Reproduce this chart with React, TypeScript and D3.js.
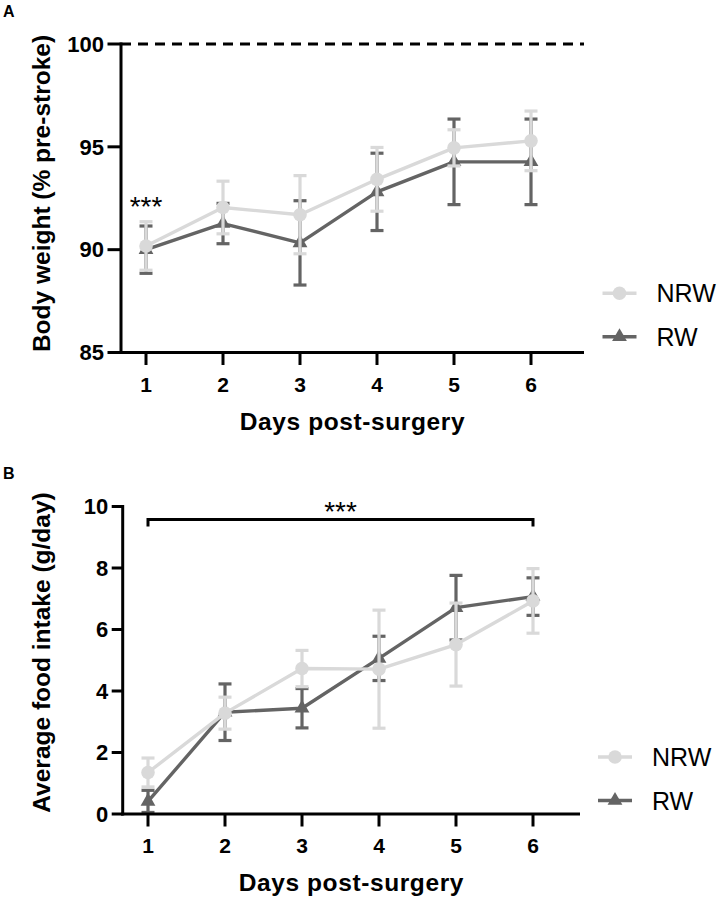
import React from "react";
import * as d3 from "d3";

// ---------- DATA ----------
const days = [1, 2, 3, 4, 5, 6];

const weightTicks = [85, 90, 95, 100];
const weightNRW = [90.18, 92.05, 91.7, 93.42, 94.95, 95.29];
const weightNRWErr = [1.18, 1.28, 1.9, 1.55, 0.88, 1.45];
const weightRW = [90.0, 91.27, 90.33, 92.81, 94.27, 94.27];
const weightRWErr = [1.15, 0.98, 2.05, 1.88, 2.08, 2.08];

const foodTicks = [0, 2, 4, 6, 8, 10];
const foodNRW = [1.35, 3.28, 4.73, 4.71, 5.51, 6.93];
const foodNRWErr = [0.47, 0.52, 0.59, 1.92, 1.35, 1.05];
const foodRW = [0.41, 3.31, 3.44, 5.06, 6.71, 7.07];
const foodRWErr = [0.36, 0.92, 0.64, 0.72, 1.05, 0.61];

const seriesNames = ["NRW", "RW"];

// ---------- STYLE ----------
const LIGHT = "#d9d9d9";
const DARK = "#646464";
const FONT = "'Liberation Sans', Arial, Helvetica, sans-serif";

type Series = { name: string; values: number[]; errs: number[]; color: string; shape: "circle" | "triangle" };

type PanelProps = {
  letter: string;
  letterY: number;
  xLeft: number;
  xRight: number;
  x1px: number;
  x6px: number;
  yTopPx: number;
  yBotPx: number;
  yDomain: [number, number];
  yTicks: number[];
  yTickLen: number;
  yTitle: string;
  yTitleCenter: number;
  series: Series[];
  legendX: number;
  legendY: number;
  dashedTop?: boolean;
  starsAt1?: boolean;
  bracket?: boolean;
};

function Marker({ shape, x, y, color }: { shape: string; x: number; y: number; color: string }) {
  if (shape === "circle") return <circle cx={x} cy={y} r={6.8} fill={color} />;
  const path = d3.symbol().type(d3.symbolTriangle).size(95)() as string;
  return <path d={path} transform={`translate(${x},${y})`} fill={color} />;
}

function Panel(p: PanelProps) {
  const x = d3.scaleLinear().domain([days[0], days[days.length - 1]]).range([p.x1px, p.x6px]);
  const y = d3.scaleLinear().domain(p.yDomain).range([p.yBotPx, p.yTopPx]);
  const axisY = p.yBotPx;
  const line = d3
    .line<number>()
    .x((_, i) => x(days[i]))
    .y((d) => y(d));
  const cap = 6.5;

  return (
    <g>
      <text x={3} y={p.letterY} fontFamily={FONT} fontWeight="bold" fontSize={16}>
        {p.letter}
      </text>

      {/* dashed reference */}
      {p.dashedTop && (
        <line x1={p.xLeft} x2={p.xRight} y1={y(p.yDomain[1])} y2={y(p.yDomain[1])} stroke="#000" strokeWidth={3} strokeDasharray="10,7" />
      )}

      {/* series */}
      {p.series
        .slice()
        .reverse()
        .map((s) => (
          <g key={s.name}>
            {s.values.map((v, i) => {
              const cx = x(days[i]);
              const lo = Math.min(y(v - s.errs[i]), y(p.yDomain[0]) - 1.5);
              const hi = y(v + s.errs[i]);
              return (
                <g key={i} stroke={s.color} strokeWidth={3.2}>
                  <line x1={cx} x2={cx} y1={hi} y2={lo} />
                  <line x1={cx - cap} x2={cx + cap} y1={hi} y2={hi} />
                  <line x1={cx - cap} x2={cx + cap} y1={lo} y2={lo} />
                </g>
              );
            })}
            <path d={line(s.values) as string} fill="none" stroke={s.color} strokeWidth={3.4} strokeLinejoin="round" />
            {s.values.map((v, i) => (
              <Marker key={i} shape={s.shape} x={x(days[i])} y={y(v)} color={s.color} />
            ))}
          </g>
        ))}

      {/* axes */}
      <line x1={p.xLeft} x2={p.xLeft} y1={p.yTopPx - 1.5} y2={axisY + 1.5} stroke="#000" strokeWidth={3} />
      <line x1={p.xLeft - 1.5} x2={p.xRight} y1={axisY} y2={axisY} stroke="#000" strokeWidth={3} />
      {p.yTicks.map((t) => (
        <g key={t}>
          <line x1={p.xLeft - p.yTickLen} x2={p.xLeft} y1={y(t)} y2={y(t)} stroke="#000" strokeWidth={3} />
          <text
            x={p.xLeft - p.yTickLen - 3.5}
            y={y(t) + 7.8}
            textAnchor="end"
            fontFamily={FONT}
            fontWeight="bold"
            fontSize={22}
          >
            {t}
          </text>
        </g>
      ))}
      {days.map((d) => (
        <g key={d}>
          <line x1={x(d)} x2={x(d)} y1={axisY} y2={axisY + 12.5} stroke="#000" strokeWidth={3} />
          <text x={x(d)} y={axisY + 39} textAnchor="middle" fontFamily={FONT} fontWeight="bold" fontSize={21}>
            {d}
          </text>
        </g>
      ))}
      <text
        x={(p.xLeft + p.xRight) / 2}
        y={axisY + 77}
        textAnchor="middle"
        fontFamily={FONT}
        fontWeight="bold"
        fontSize={24.5}
        letterSpacing={0.6}
      >
        Days post-surgery
      </text>
      <text
        transform={`translate(50,${p.yTitleCenter}) rotate(-90)`}
        textAnchor="middle"
        fontFamily={FONT}
        fontWeight="bold"
        fontSize={24.5}
      >
        {p.yTitle}
      </text>

      {/* significance */}
      {p.starsAt1 && (
        <text x={x(1)} y={y(p.series[0].values[0] + p.series[0].errs[0]) - 6} textAnchor="middle" fontFamily={FONT} fontSize={28}>
          ***
        </text>
      )}
      {p.bracket && (
        <g>
          <path
            d={`M${x(1)},${p.yTopPx + 20} L${x(1)},${p.yTopPx + 13} L${x(6)},${p.yTopPx + 13} L${x(6)},${p.yTopPx + 20}`}
            fill="none"
            stroke="#000"
            strokeWidth={3}
          />
          <text x={(x(1) + x(6)) / 2} y={p.yTopPx + 14.5} textAnchor="middle" fontFamily={FONT} fontSize={28}>
            ***
          </text>
        </g>
      )}

      {/* legend */}
      {p.series.map((s, i) => {
        const ly = p.legendY + i * 43.5;
        return (
          <g key={s.name}>
            <line x1={p.legendX} x2={p.legendX + 34} y1={ly} y2={ly} stroke={s.color} strokeWidth={3.4} />
            <Marker shape={s.shape} x={p.legendX + 17} y={ly} color={s.color} />
            <text x={p.legendX + 54} y={ly + 9} fontFamily={FONT} fontSize={25}>
              {s.name}
            </text>
          </g>
        );
      })}
    </g>
  );
}

export default function App() {
  const seriesA: Series[] = [
    { name: seriesNames[0], values: weightNRW, errs: weightNRWErr, color: LIGHT, shape: "circle" },
    { name: seriesNames[1], values: weightRW, errs: weightRWErr, color: DARK, shape: "triangle" },
  ];
  const seriesB: Series[] = [
    { name: seriesNames[0], values: foodNRW, errs: foodNRWErr, color: LIGHT, shape: "circle" },
    { name: seriesNames[1], values: foodRW, errs: foodRWErr, color: DARK, shape: "triangle" },
  ];
  return (
    <svg width={720} height={901} style={{ position: "absolute", left: 0, top: 0, background: "#fff" }}>
      <rect width={720} height={901} fill="#fff" />
      <Panel
        letter="A"
        letterY={17}
        xLeft={121}
        xRight={584}
        x1px={146}
        x6px={531}
        yTopPx={44}
        yBotPx={352.5}
        yDomain={[85, 100]}
        yTicks={weightTicks}
        yTickLen={13.5}
        yTitle="Body weight (% pre-stroke)"
        yTitleCenter={193.5}
        series={seriesA}
        legendX={602.5}
        legendY={293.3}
        dashedTop
        starsAt1
      />
      <Panel
        letter="B"
        letterY={479}
        xLeft={122.7}
        xRight={580}
        x1px={148}
        x6px={533}
        yTopPx={506.5}
        yBotPx={814}
        yDomain={[0, 10]}
        yTicks={foodTicks}
        yTickLen={11}
        yTitle="Average food intake (g/day)"
        yTitleCenter={652.5}
        series={seriesB}
        legendX={598}
        legendY={757}
        bracket
      />
    </svg>
  );
}
